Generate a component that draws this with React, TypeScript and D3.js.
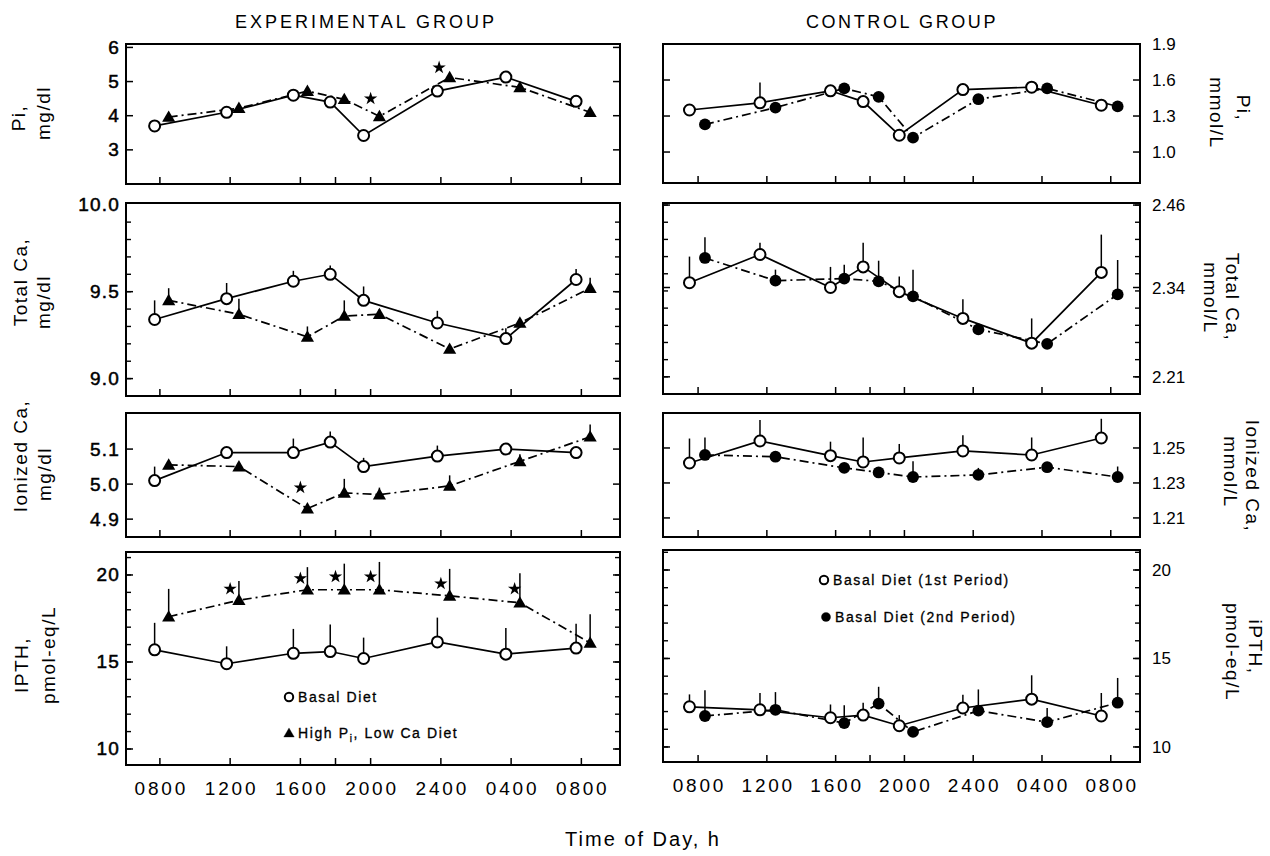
import React from "react";
import * as d3 from "d3";

// sampling times in hours from midnight of day 1 (each diet sampled a little either side of the clock hour)
const expBasalTimes = [7.7, 11.8, 15.6, 17.7, 19.6, 23.8, 27.7, 31.7];
const expHighTimes = [8.5, 12.5, 16.4, 18.5, 20.5, 24.5, 28.5, 32.5];
const ctrlFirstTimes = [7.5, 11.6, 15.7, 17.6, 19.7, 23.4, 27.4, 31.45];
const ctrlSecondTimes = [8.4, 12.5, 16.5, 18.5, 20.5, 24.3, 28.3, 32.4];

const hourTicks = [8, 12, 16, 18, 20, 24, 28, 32];
const hourLabels = ["0800", "1200", "1600", "", "2000", "2400", "0400", "0800"];

// serum Pi
const piExpBasal = [3.7, 4.1, 4.6, 4.4, 3.42, 4.72, 5.13, 4.42];
const piExpHigh = [3.96, 4.22, 4.72, 4.48, 3.98, 5.12, 4.83, 4.1];
const piExpStarTimes = [20.0, 23.9];
const piExpStarValues = [4.5, 5.41];
const piCtrlFirst = [1.35, 1.41, 1.51, 1.42, 1.14, 1.52, 1.54, 1.39];
const piCtrlFirstErr = [0, 0.17, 0, 0, 0, 0, 0, 0];
const piCtrlSecond = [1.23, 1.37, 1.53, 1.46, 1.12, 1.44, 1.53, 1.38];

// total Ca
const tcaExpBasal = [9.34, 9.46, 9.56, 9.6, 9.45, 9.32, 9.23, 9.57];
const tcaExpBasalErr = [0.11, 0.09, 0.06, 0.05, 0.08, 0.07, 0.06, 0.06];
const tcaExpHigh = [9.45, 9.37, 9.24, 9.36, 9.37, 9.17, 9.32, 9.52];
const tcaExpHighErr = [0.07, 0.09, 0.06, 0.09, 0.03, 0, 0.02, 0.06];
const tcaCtrlFirst = [2.347, 2.388, 2.34, 2.37, 2.334, 2.295, 2.259, 2.362];
const tcaCtrlFirstErr = [0.038, 0.017, 0.03, 0.035, 0.022, 0.028, 0.036, 0.055];
const tcaCtrlSecond = [2.383, 2.35, 2.353, 2.349, 2.327, 2.279, 2.258, 2.33];
const tcaCtrlSecondErr = [0.03, 0.016, 0.02, 0.03, 0.039, 0, 0, 0.05];

// ionized Ca
const icaExpBasal = [5.01, 5.09, 5.09, 5.12, 5.05, 5.08, 5.1, 5.09];
const icaExpBasalErr = [0.04, 0.01, 0.04, 0.03, 0.025, 0.03, 0, 0];
const icaExpHigh = [5.055, 5.05, 4.93, 4.975, 4.97, 4.995, 5.065, 5.135];
const icaExpHighErr = [0, 0, 0, 0.04, 0.02, 0.03, 0.02, 0.035];
const icaExpStarTimes = [16.0];
const icaExpStarValues = [4.99];
const icaCtrlFirst = [1.2414, 1.254, 1.2456, 1.242, 1.2443, 1.2483, 1.246, 1.2557];
const icaCtrlFirstErr = [0.014, 0.012, 0.008, 0.014, 0.008, 0.009, 0.01, 0.011];
const icaCtrlSecond = [1.246, 1.245, 1.2386, 1.236, 1.2334, 1.2346, 1.239, 1.2334];
const icaCtrlSecondErr = [0.01, 0, 0, 0, 0.009, 0.004, 0, 0.006];

// iPTH
const pthExpBasal = [15.7, 14.9, 15.5, 15.6, 15.2, 16.15, 15.45, 15.8];
const pthExpBasalErr = [1.55, 1.0, 1.4, 1.55, 1.2, 1.4, 1.5, 1.4];
const pthExpHigh = [17.6, 18.55, 19.15, 19.15, 19.15, 18.8, 18.4, 16.1];
const pthExpHighErr = [1.6, 1.1, 1.3, 1.5, 1.6, 1.55, 1.7, 1.65];
const pthExpStarTimes = [12.0, 16.0, 18.0, 20.0, 24.0, 28.2];
const pthExpStarValues = [19.2, 19.8, 19.9, 19.9, 19.5, 19.2];
const pthCtrlFirst = [12.27, 12.1, 11.65, 11.8, 11.2, 12.2, 12.7, 11.75];
const pthCtrlFirstErr = [0.7, 0.95, 0.75, 0.7, 0.6, 0.75, 1.35, 1.3];
const pthCtrlSecond = [11.75, 12.1, 11.35, 12.45, 10.85, 12.05, 11.4, 12.5];
const pthCtrlSecondErr = [1.45, 1.0, 1.0, 0.95, 0, 1.2, 0.8, 1.4];

// y axis ticks
const piMgTicks = [3, 4, 5, 6];
const piMmolTicks = [1.0, 1.3, 1.6, 1.9];
const tcaMgTicks = [9.0, 9.5, 10.0];
const tcaMgMinor = d3.range(9.0, 10.01, 0.1);
const tcaMmolTicks = [2.21, 2.34, 2.46];
const tcaMmolMinor = d3.range(2.21, 2.461, 0.025);
const icaMgTicks = [4.9, 5.0, 5.1];
const icaMmolTicks = [1.21, 1.23, 1.25];
const pthTicks = [10, 15, 20];
const pthMinor = d3.range(10, 21.5, 1);

const FONT = "'Liberation Sans', Arial, Helvetica, sans-serif";
const DASH = "9,4,2,4";

type Kind = "open" | "filled" | "triangle";
type Series = { times: number[]; values: number[]; errors?: number[]; kind: Kind; dashed: boolean };

function Marker({ kind, x, y, small }: { kind: Kind; x: number; y: number; small?: boolean }) {
  const r = small ? 4.2 : 5.5;
  if (kind === "open") return <circle cx={x} cy={y} r={r} fill="#fff" stroke="#000" strokeWidth={2} />;
  if (kind === "filled") return <circle cx={x} cy={y} r={r + 0.4} fill="#000" />;
  const d = d3.symbol(d3.symbolTriangle, small ? 48 : 75)() || "";
  return <path d={d} transform={`translate(${x},${y + 1})`} fill="#000" />;
}

function Panel(props: {
  box: [number, number, number, number];
  xDomain: [number, number];
  yDomain: [number, number];
  major: number[];
  minor?: number[];
  labels: string[];
  labelSide: "left" | "right";
  series: Series[];
  starTimes?: number[];
  starValues?: number[];
  showX: boolean;
}) {
  const [x0, x1, y0, y1] = props.box;
  const x = d3.scaleLinear().domain(props.xDomain).range([x0, x1]);
  const y = d3.scaleLinear().domain(props.yDomain).range([y1, y0]);
  const line = d3.line<[number, number]>().x(d => x(d[0])).y(d => y(d[1]));
  const inBox = (v: number) => y(v) > y0 + 2 && y(v) < y1 - 2;
  const minor = (props.minor || []).filter(inBox);
  const major = props.major.filter(inBox);
  return (
    <g>
      <rect x={x0} y={y0} width={x1 - x0} height={y1 - y0} fill="none" stroke="#000" strokeWidth={2} />
      {minor.map((v, i) => (
        <g key={"mn" + i} stroke="#000" strokeWidth={1.4}>
          <line x1={x0} x2={x0 + 5} y1={y(v)} y2={y(v)} />
          <line x1={x1} x2={x1 - 5} y1={y(v)} y2={y(v)} />
        </g>
      ))}
      {major.map((v, i) => (
        <g key={"mj" + i} stroke="#000" strokeWidth={1.5}>
          <line x1={x0} x2={x0 + 7} y1={y(v)} y2={y(v)} />
          <line x1={x1} x2={x1 - 7} y1={y(v)} y2={y(v)} />
        </g>
      ))}
      {props.major.map((v, i) =>
        props.labelSide === "left" ? (
          <text key={"yl" + i} x={x0 - 6} y={y(v) + 6.5} textAnchor="end" fontSize={19} letterSpacing={1.2}
            stroke="#000" strokeWidth={0.5}>
            {props.labels[i]}
          </text>
        ) : (
          <text key={"yl" + i} x={x1 + 12} y={y(v) + 6} textAnchor="start" fontSize={17}>
            {props.labels[i]}
          </text>
        )
      )}
      {hourTicks.map((h, i) => (
        <line key={"xt" + i} x1={x(h)} x2={x(h)} y1={y1} y2={y1 - 7} stroke="#000" strokeWidth={1.5} />
      ))}
      {props.showX &&
        hourTicks.map((h, i) =>
          hourLabels[i] ? (
            <text key={"xl" + i} x={x(h) + 1.4} y={y1 + 30} textAnchor="middle" fontSize={19} letterSpacing={2.8}>
              {hourLabels[i]}
            </text>
          ) : null
        )}
      {props.series.map((s, si) => (
        <path
          key={"ln" + si}
          d={line(s.times.map((t, i) => [t, s.values[i]] as [number, number])) || ""}
          fill="none"
          stroke="#000"
          strokeWidth={1.7}
          strokeDasharray={s.dashed ? DASH : undefined}
        />
      ))}
      {props.series.map((s, si) =>
        (s.errors || []).map((e, i) =>
          e > 0 ? (
            <line
              key={"er" + si + "_" + i}
              x1={x(s.times[i])}
              x2={x(s.times[i])}
              y1={y(s.values[i])}
              y2={y(s.values[i] + e)}
              stroke="#000"
              strokeWidth={1.5}
            />
          ) : null
        )
      )}
      {props.series.map((s, si) =>
        s.times.map((t, i) => <Marker key={"mk" + si + "_" + i} kind={s.kind} x={x(t)} y={y(s.values[i])} />)
      )}
      {(props.starTimes || []).map((t, i) => (
        <path
          key={"st" + i}
          d={d3.symbol(d3.symbolStar, 55)() || ""}
          transform={`translate(${x(t)},${y((props.starValues || [])[i])})`}
          fill="#000"
        />
      ))}
    </g>
  );
}

function AxisTitle({ lines, side }: { lines: { text: string; bx: number; cy: number }[]; side: "left" | "right" }) {
  return (
    <g>
      {lines.map((l, i) => (
        <text
          key={i}
          transform={`translate(${l.bx},${l.cy}) rotate(${side === "left" ? -90 : 90})`}
          textAnchor="middle"
          fontSize={19}
          letterSpacing={1.5}
        >
          {l.text}
        </text>
      ))}
    </g>
  );
}

const leftX: [number, number] = [126, 620];
const rightX: [number, number] = [663, 1140];
const leftDom: [number, number] = [6.07, 34.2];
const rightDom: [number, number] = [5.96, 33.7];

const fmt = (d: number) => d3.format(".1f")(d);

export default function App() {
  return (
    <svg
      width={1270}
      height={856}
      viewBox="0 0 1270 856"
      style={{ position: "absolute", left: 0, top: 0, background: "#fff" }}
      fontFamily={FONT}
    >
      <rect width={1270} height={856} fill="#fff" />
      <text x={366} y={28} textAnchor="middle" fontSize={18} letterSpacing={3}>EXPERIMENTAL GROUP</text>
      <text x={902} y={28} textAnchor="middle" fontSize={18} letterSpacing={2.6}>CONTROL GROUP</text>

      {/* Pi */}
      <Panel
        box={[leftX[0], leftX[1], 44, 184]}
        xDomain={leftDom}
        yDomain={[2, 6.1]}
        major={piMgTicks}
        labels={piMgTicks.map(String)}
        labelSide="left"
        series={[
          { times: expBasalTimes, values: piExpBasal, kind: "open", dashed: false },
          { times: expHighTimes, values: piExpHigh, kind: "triangle", dashed: true },
        ]}
        starTimes={piExpStarTimes}
        starValues={piExpStarValues}
        showX={false}
      />
      <Panel
        box={[rightX[0], rightX[1], 44, 183]}
        xDomain={rightDom}
        yDomain={[0.742, 1.9]}
        major={piMmolTicks}
        labels={piMmolTicks.map(fmt)}
        labelSide="right"
        series={[
          { times: ctrlSecondTimes, values: piCtrlSecond, kind: "filled", dashed: true },
          { times: ctrlFirstTimes, values: piCtrlFirst, errors: piCtrlFirstErr, kind: "open", dashed: false },
        ]}
        showX={false}
      />

      {/* total Ca */}
      <Panel
        box={[leftX[0], leftX[1], 203, 396]}
        xDomain={leftDom}
        yDomain={[8.9, 10.01]}
        major={tcaMgTicks}
        minor={tcaMgMinor}
        labels={tcaMgTicks.map(fmt)}
        labelSide="left"
        series={[
          { times: expHighTimes, values: tcaExpHigh, errors: tcaExpHighErr, kind: "triangle", dashed: true },
          { times: expBasalTimes, values: tcaExpBasal, errors: tcaExpBasalErr, kind: "open", dashed: false },
        ]}
        showX={false}
      />
      <Panel
        box={[rightX[0], rightX[1], 203, 394]}
        xDomain={rightDom}
        yDomain={[2.185, 2.463]}
        major={tcaMmolTicks}
        minor={tcaMmolMinor}
        labels={tcaMmolTicks.map(d => d3.format(".2f")(d))}
        labelSide="right"
        series={[
          { times: ctrlSecondTimes, values: tcaCtrlSecond, errors: tcaCtrlSecondErr, kind: "filled", dashed: true },
          { times: ctrlFirstTimes, values: tcaCtrlFirst, errors: tcaCtrlFirstErr, kind: "open", dashed: false },
        ]}
        showX={false}
      />

      {/* ionized Ca */}
      <Panel
        box={[leftX[0], leftX[1], 413, 537]}
        xDomain={leftDom}
        yDomain={[4.849, 5.203]}
        major={icaMgTicks}
        labels={icaMgTicks.map(fmt)}
        labelSide="left"
        series={[
          { times: expHighTimes, values: icaExpHigh, errors: icaExpHighErr, kind: "triangle", dashed: true },
          { times: expBasalTimes, values: icaExpBasal, errors: icaExpBasalErr, kind: "open", dashed: false },
        ]}
        starTimes={icaExpStarTimes}
        starValues={icaExpStarValues}
        showX={false}
      />
      <Panel
        box={[rightX[0], rightX[1], 413, 537]}
        xDomain={rightDom}
        yDomain={[1.1991, 1.27]}
        major={icaMmolTicks}
        labels={icaMmolTicks.map(d => d3.format(".2f")(d))}
        labelSide="right"
        series={[
          { times: ctrlSecondTimes, values: icaCtrlSecond, errors: icaCtrlSecondErr, kind: "filled", dashed: true },
          { times: ctrlFirstTimes, values: icaCtrlFirst, errors: icaCtrlFirstErr, kind: "open", dashed: false },
        ]}
        showX={false}
      />

      {/* iPTH */}
      <Panel
        box={[leftX[0], leftX[1], 552, 765]}
        xDomain={leftDom}
        yDomain={[9.08, 21.32]}
        major={pthTicks}
        minor={pthMinor}
        labels={pthTicks.map(String)}
        labelSide="left"
        series={[
          { times: expHighTimes, values: pthExpHigh, errors: pthExpHighErr, kind: "triangle", dashed: true },
          { times: expBasalTimes, values: pthExpBasal, errors: pthExpBasalErr, kind: "open", dashed: false },
        ]}
        starTimes={pthExpStarTimes}
        starValues={pthExpStarValues}
        showX={true}
      />
      <Panel
        box={[rightX[0], rightX[1], 550, 762]}
        xDomain={rightDom}
        yDomain={[9.15, 21.13]}
        major={pthTicks}
        minor={pthMinor}
        labels={pthTicks.map(String)}
        labelSide="right"
        series={[
          { times: ctrlSecondTimes, values: pthCtrlSecond, errors: pthCtrlSecondErr, kind: "filled", dashed: true },
          { times: ctrlFirstTimes, values: pthCtrlFirst, errors: pthCtrlFirstErr, kind: "open", dashed: false },
        ]}
        showX={true}
      />

      {/* legends */}
      <g fontSize={14} letterSpacing={1.6} stroke="#000" strokeWidth={0.3}>
        <Marker kind="open" x={289} y={697} small />
        <text x={298} y={702}>Basal Diet</text>
        <Marker kind="triangle" x={289} y={733} small />
        <text x={298} y={738}>
          High P<tspan fontSize={10} dy={4}>i</tspan>
          <tspan dy={-4}>, Low Ca Diet</tspan>
        </text>
        <Marker kind="open" x={824} y={580} small />
        <text x={833} y={585}>Basal Diet (1st Period)</text>
        <Marker kind="filled" x={826} y={617} small />
        <text x={835} y={622}>Basal Diet (2nd Period)</text>
      </g>

      {/* axis titles */}
      <AxisTitle side="left" lines={[{ text: "Pi,", bx: 25, cy: 118 }, { text: "mg/dl", bx: 50, cy: 113 }]} />
      <AxisTitle side="left" lines={[{ text: "Total Ca,", bx: 27, cy: 282 }, { text: "mg/dl", bx: 50, cy: 302 }]} />
      <AxisTitle side="left" lines={[{ text: "Ionized Ca,", bx: 27, cy: 456 }, { text: "mg/dl", bx: 51, cy: 474 }]} />
      <AxisTitle side="left" lines={[{ text: "IPTH,", bx: 28, cy: 665 }, { text: "pmol-eq/L", bx: 55, cy: 655 }]} />
      <AxisTitle side="right" lines={[{ text: "Pi,", bx: 1237, cy: 108 }, { text: "mmol/L", bx: 1210, cy: 113 }]} />
      <AxisTitle side="right" lines={[{ text: "Total Ca,", bx: 1226, cy: 297 }, { text: "mmol/L", bx: 1204, cy: 298 }]} />
      <AxisTitle side="right" lines={[{ text: "Ionized Ca,", bx: 1246, cy: 476 }, { text: "mmol/L", bx: 1224, cy: 472 }]} />
      <AxisTitle side="right" lines={[{ text: "iPTH,", bx: 1249, cy: 647 }, { text: "pmol-eq/L", bx: 1226, cy: 652 }]} />

      <text x={643} y={846} textAnchor="middle" fontSize={20} letterSpacing={2}>Time of Day, h</text>
    </svg>
  );
}
